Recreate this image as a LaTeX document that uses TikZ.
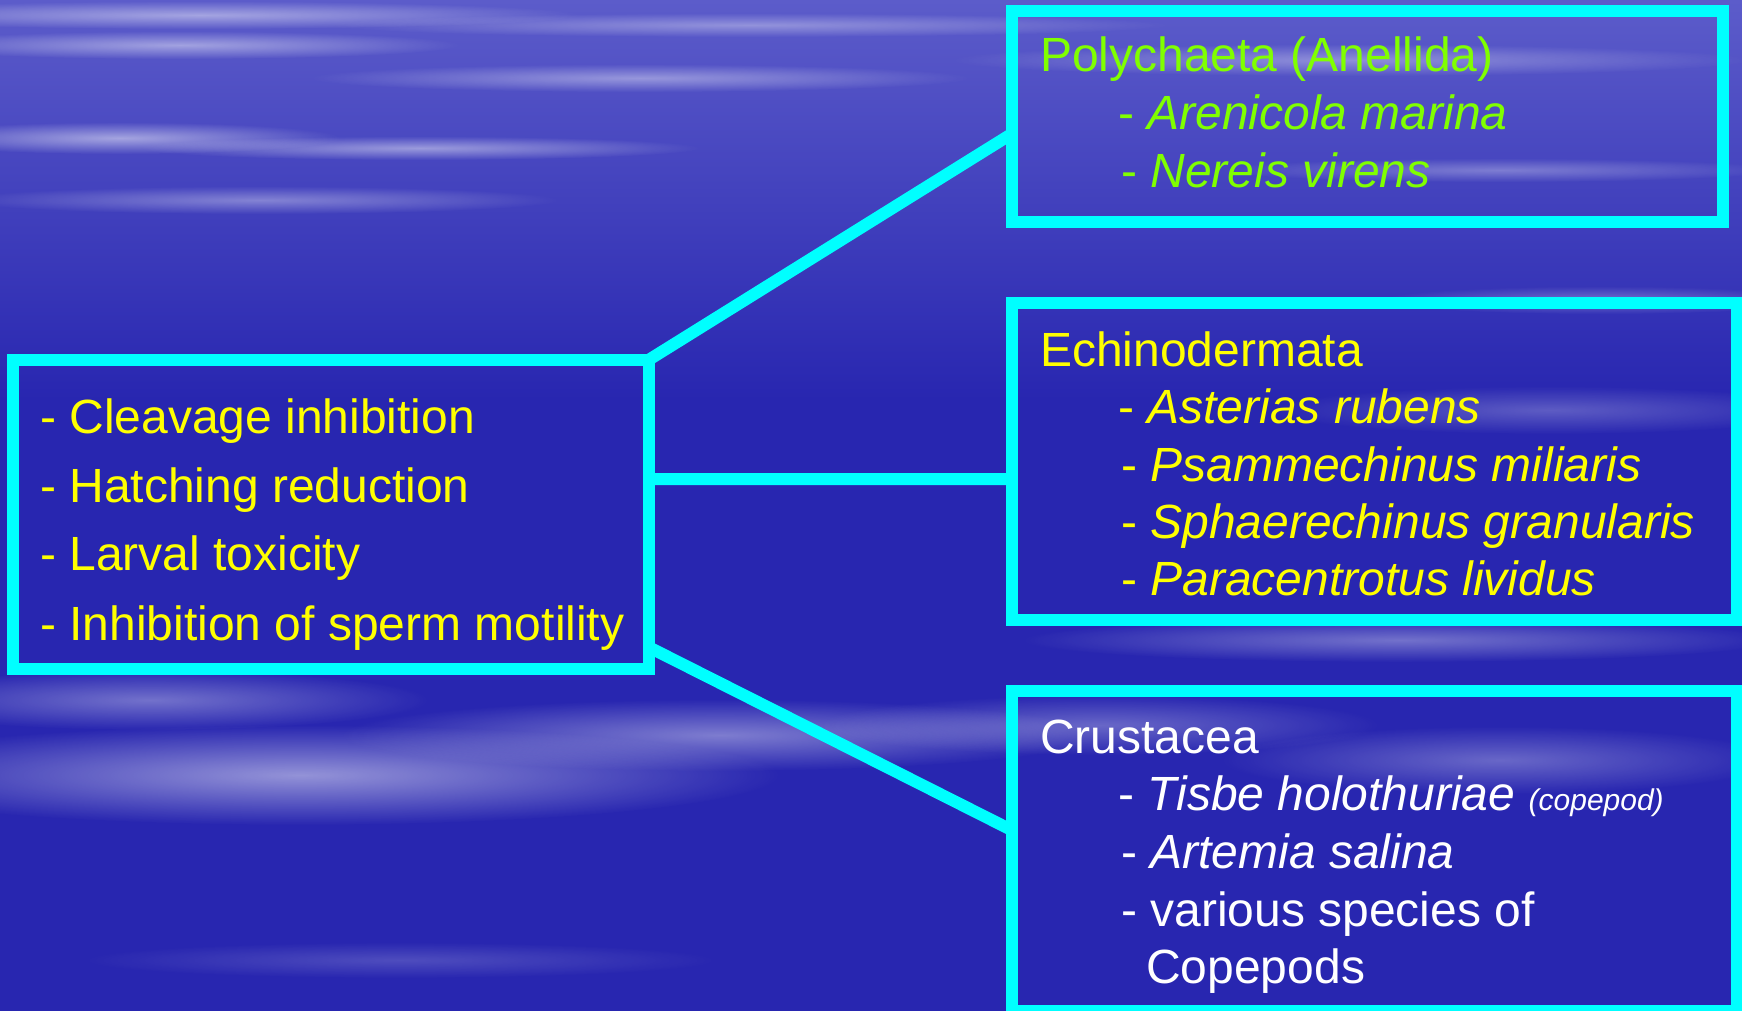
\documentclass[tikz,border=0pt]{standalone}
\usepackage{fontspec}
\setmainfont{Liberation Sans}
\usetikzlibrary{fadings}
\definecolor{seablue}{RGB}{40,38,176}
\definecolor{skyblue}{RGB}{92,92,202}
\definecolor{boxcyan}{RGB}{0,255,255}
\definecolor{leafgreen}{RGB}{128,255,0}
\definecolor{textyellow}{RGB}{255,255,0}
\tikzfading[name=softglow, inner color=transparent!0, outer color=transparent!100]

\begin{document}
\begin{tikzpicture}[x=1pt, y=-1pt,
  frame/.style={draw=boxcyan, line width=12pt, inner sep=0pt, outer sep=0pt},
  link/.style={draw=boxcyan, line width=12pt},
  entry/.style={anchor=base west, inner sep=0pt, font=\fontsize{48}{57}\selectfont},
  streak/.style={fill=white, path fading=softglow}]
  \useasboundingbox (0,0) rectangle (1742,1011);
  \fill[seablue] (0,0) rectangle (1742,1011);
  \shade[top color=skyblue, bottom color=seablue] (0,0) rectangle (1742,400);

  \fill[streak, opacity=.45] (200,15) ellipse (380 and 14);
  \fill[streak, opacity=.35] (750,25) ellipse (420 and 12);
  \fill[streak, opacity=.45] (180,45) ellipse (280 and 14);
  \fill[streak, opacity=.40] (640,78) ellipse (330 and 14);
  \fill[streak, opacity=.35] (1350,60) ellipse (400 and 16);
  \fill[streak, opacity=.50] (120,138) ellipse (220 and 16);
  \fill[streak, opacity=.45] (420,148) ellipse (280 and 12);
  \fill[streak, opacity=.35] (260,200) ellipse (300 and 14);
  \fill[streak, opacity=.30] (1500,170) ellipse (280 and 12);
  \fill[streak, opacity=.30] (1600,300) ellipse (220 and 14);
  \fill[streak, opacity=.25] (1550,410) ellipse (280 and 24);
  \fill[streak, opacity=.35] (1400,640) ellipse (380 and 22);
  \fill[streak, opacity=.35] (150,700) ellipse (280 and 30);
  \fill[streak, opacity=.50] (300,775) ellipse (480 and 50);
  \fill[streak, opacity=.40] (720,735) ellipse (380 and 36);
  \fill[streak, opacity=.30] (1100,725) ellipse (280 and 30);
  \fill[streak, opacity=.30] (1500,760) ellipse (280 and 34);
  \fill[streak, opacity=.18] (400,960) ellipse (320 and 18);

  \node[frame, minimum width=635.5pt, minimum height=308.5pt] (effects) at (330.75,514.25) {};
  \node[frame, minimum width=711.5pt, minimum height=211pt] (poly) at (1367.25,116.5) {};
  \node[frame, minimum width=725.5pt, minimum height=317pt] (echino) at (1374.25,461.5) {};
  \node[frame, minimum width=725.5pt, minimum height=320pt] (crust) at (1374.25,851) {};

  \draw[link] (effects.north east) -- ([yshift=-17.5pt]poly.west);
  \draw[link] ([yshift=35pt]effects.east) -- ([yshift=-17.5pt]echino.west);
  \draw[link] ([yshift=-132.75pt]effects.east) -- ([yshift=21pt]crust.west);

  \node[entry, textyellow] (cleavage) at (40,433) {- Cleavage inhibition};
  \node[entry, textyellow] (hatching) at (40,502) {- Hatching reduction};
  \node[entry, textyellow] (larval) at (40,570) {- Larval toxicity};
  \node[entry, textyellow] (sperm) at (40,640) {- Inhibition of sperm motility};

  \node[entry, leafgreen] (polyhead) at (1040,72) {Polychaeta (Anellida)};
  \node[entry, leafgreen] (arenicola) at (1118,130) {- \textit{Arenicola marina}};
  \node[entry, leafgreen] (nereis) at (1121,188) {- \textit{Nereis virens}};

  \node[entry, textyellow] (echinohead) at (1040,366) {Echinodermata};
  \node[entry, textyellow] (asterias) at (1118,423) {- \textit{Asterias rubens}};
  \node[entry, textyellow] (psammechinus) at (1121,481) {- \textit{Psammechinus miliaris}};
  \node[entry, textyellow] (sphaerechinus) at (1121,538) {- \textit{Sphaerechinus granularis}};
  \node[entry, textyellow] (paracentrotus) at (1121,595) {- \textit{Paracentrotus lividus}};

  \node[entry, white] (crusthead) at (1040,753) {Crustacea};
  \node[entry, white] (tisbe) at (1118,810) {- \textit{Tisbe holothuriae} {\fontsize{30}{30}\selectfont\itshape (copepod)}};
  \node[entry, white] (artemia) at (1121,868) {- \textit{Artemia salina}};
  \node[entry, white] (various) at (1121,926) {- various species of};
  \node[entry, white] (copepods) at (1146,983) {Copepods};
\end{tikzpicture}
\end{document}
